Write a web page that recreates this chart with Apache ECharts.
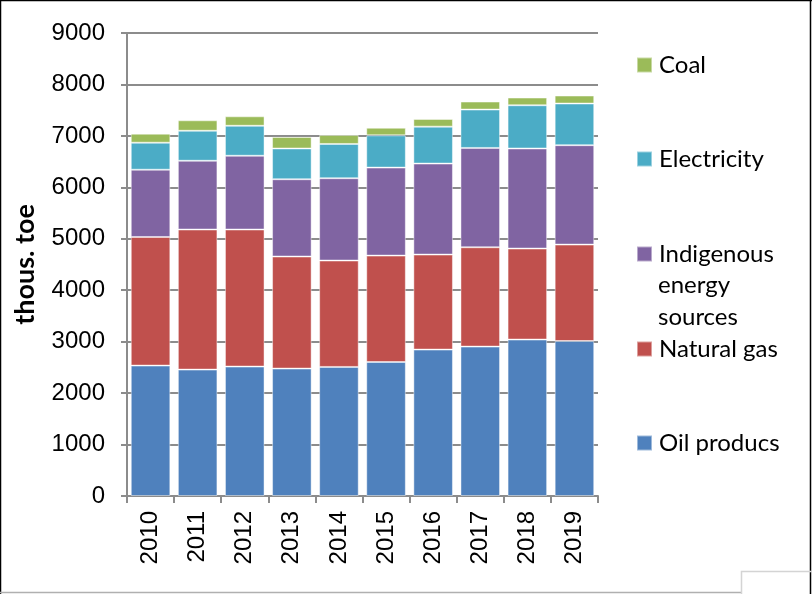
<!DOCTYPE html>
<html><head><meta charset="utf-8">
<script src="https://cdn.jsdelivr.net/npm/echarts@6/dist/echarts.min.js"></script>
<style>html,body{margin:0;padding:0;background:#fff}#c{width:812px;height:594px}</style>
</head><body><div id="c"></div>
<script>
const years = ['2010','2011','2012','2013','2014','2015','2016','2017','2018','2019'];
const oilProducts = [2535, 2457, 2516, 2477, 2509, 2605, 2846, 2904, 3041, 3013];
const naturalGas = [2500, 2723, 2664, 2178, 2068, 2068, 1847, 1931, 1769, 1874];
const indigenous = [1308, 1337, 1434, 1502, 1600, 1711, 1769, 1931, 1945, 1932];
const electricity = [525, 583, 583, 598, 666, 626, 718, 746, 840, 810];
const coal = [175, 203, 183, 225, 175, 148, 149, 155, 150, 155];
const yTicks = [0, 1000, 2000, 3000, 4000, 5000, 6000, 7000, 8000, 9000];

const chart = echarts.init(document.getElementById('c'));
const num = 'Liberation Sans, Arial, sans-serif';
const txt = 'Lato, Open Sans, sans-serif';
function s(name, data, color) {
  return {name, type:'bar', stack:'t', data, barCategoryGap:'16%',
    itemStyle:{color, borderColor:'rgba(255,255,255,0.45)', borderWidth:1}};
}
const legendItems = [
  {name:'Coal', top:53},
  {name:'Electricity', top:147},
  {name:'Indigenous energy sources', top:242},
  {name:'Natural gas', top:337},
  {name:'Oil producs', top:431}
];
chart.setOption({
  animation:false,
  grid:{left:127, right:214, top:33, bottom:98},
  xAxis:{type:'category', data:years,
    axisLine:{lineStyle:{color:'#8c8c8c', width:2}},
    axisTick:{show:true, length:7, lineStyle:{color:'#8c8c8c', width:2}},
    axisLabel:{rotate:90, fontSize:24, fontFamily:num, color:'#000', margin:15}},
  yAxis:{type:'value', min:yTicks[0], max:yTicks[yTicks.length-1], interval:1000,
    name:'thous. toe', nameLocation:'middle', nameGap:88, nameRotate:90,
    nameTextStyle:{fontSize:27, fontWeight:'bold', fontFamily:txt, color:'#000'},
    axisLine:{show:true, lineStyle:{color:'#8c8c8c', width:2}},
    axisTick:{show:true, length:6, lineStyle:{color:'#8c8c8c', width:2}},
    splitLine:{lineStyle:{color:'#8c8c8c', width:2}},
    axisLabel:{fontSize:24, fontFamily:num, color:'#000', margin:22, formatter: v => String(v)}},
  legend: legendItems.map(it => ({
    data:[it.name], left:636, top:it.top, padding:0, itemWidth:15, itemHeight:15, itemGap:0,
    icon:'rect',
    formatter: n => n === 'Indigenous energy sources' ? 'Indigenous' : n,
    textStyle:{fontSize:24, fontFamily:txt, color:'#000', padding:[0,0,0,2]}
  })),
  graphic:[
    {type:'text', left:658, top:269, style:{text:'energy\nsources', font:'24px Lato, Open Sans, sans-serif', fill:'#000', lineHeight:32}},
    {type:'line', shape:{x1:0.5,y1:0,x2:0.5,y2:594}, style:{stroke:'#000', lineWidth:1.5}},
    {type:'line', shape:{x1:810.5,y1:0,x2:810.5,y2:594}, style:{stroke:'#000', lineWidth:1.5}},
    {type:'line', shape:{x1:0,y1:0.5,x2:812,y2:0.5}, style:{stroke:'#000', lineWidth:1.5}},
    {type:'line', shape:{x1:0,y1:592.5,x2:741,y2:592.5}, style:{stroke:'#b0b0b0', lineWidth:1.5}},
    {type:'polyline', shape:{points:[[741.5,594],[741.5,571.5],[812,571.5]]}, style:{stroke:'#d4d4d4', lineWidth:1.5, fill:null}}
  ],
  series:[
    s('Oil producs', oilProducts, '#4F81BD'),
    s('Natural gas', naturalGas, '#C0504D'),
    s('Indigenous energy sources', indigenous, '#8064A2'),
    s('Electricity', electricity, '#4BACC6'),
    s('Coal', coal, '#9BBB59')
  ]
});
</script></body></html>
